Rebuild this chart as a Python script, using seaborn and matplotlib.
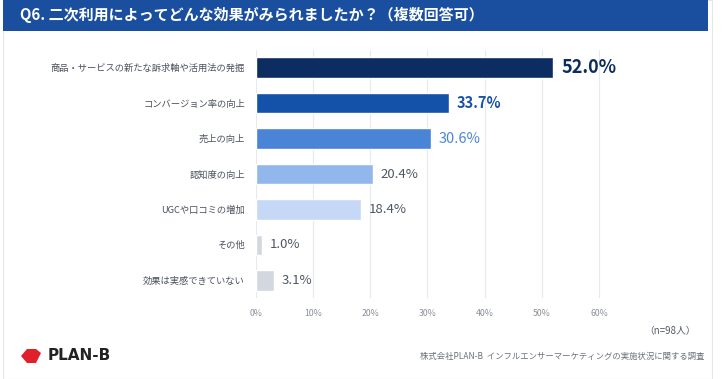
import matplotlib.pyplot as plt
import matplotlib.patches as mpatches
import seaborn as sns
import pandas as pd

# 回答データ
categories = ["商品・サービスの新たな訴求軸や活用法の発掘", "コンバージョン率の向上", "売上の向上",
              "認知度の向上", "UGCや口コミの増加", "その他", "効果は実感できていない"]
values = [52.0, 33.7, 30.6, 20.4, 18.4, 1.0, 3.1]
bar_colors = ["#0c2c62", "#1451a8", "#4a84d6", "#92b7ec", "#c5d9f6", "#d3d8e0", "#d3d8e0"]
label_colors = ["#0c2c62", "#1a52a8", "#4a86d8", "#4f5663", "#4f5663", "#4f5663", "#4f5663"]
ticks = [0, 10, 20, 30, 40, 50, 60]

sns.set_style("white")
plt.rcParams['font.family'] = ['Noto Sans CJK JP', 'DejaVu Sans']

df = pd.DataFrame({"cat": categories, "val": values})

fig = plt.figure(figsize=(7.26, 3.79), dpi=100)
W, H = 726, 379

# カード枠とヘッダー
fig.patches.append(mpatches.Rectangle((3 / W, 0), 709 / W, 1, transform=fig.transFigure,
                                      facecolor="white", edgecolor="#e4e6ea", lw=0.8, zorder=-2))
fig.patches.append(mpatches.Rectangle((3 / W, 1 - 31 / H), 705 / W, 31 / H, transform=fig.transFigure,
                                      facecolor="#1a4fa0", edgecolor="none", zorder=-1))
fig.text(20 / W, 1 - 15 / H, "Q6. 二次利用によってどんな効果がみられましたか？（複数回答可）",
         color="white", fontsize=10.8, fontweight="bold", va="center", ha="left")

ax = fig.add_axes([256 / W, 1 - 298 / H, (635 - 256) / W, (298 - 50) / H])
ax.set_zorder(2)
ax.patch.set_alpha(0)
sns.barplot(data=df, x="val", y="cat", hue="cat", palette=bar_colors, legend=False,
            width=0.58, saturation=1, ax=ax, orient="h")
ax.set_xlim(0, 66.3)
ax.set_xticks(ticks)
ax.set_xticklabels([f"{t}%" for t in ticks], fontsize=6.3, color="#8a8f98")
ax.tick_params(axis="x", length=0, pad=8)
ax.tick_params(axis="y", length=0, pad=8)
ax.set_yticks(range(len(categories)))
ax.set_yticklabels(categories, fontsize=6.7, color="#4a505c")
ax.set_xlabel("")
ax.set_ylabel("")
for s in ax.spines.values():
    s.set_visible(False)
ax.xaxis.grid(True, color="#e6e9ee", lw=0.8)
ax.set_axisbelow(True)

sizes = [13, 10.5, 10.5, 9.5, 9.5, 9.5, 9.5]
weights = ["bold", "bold", "normal", "normal", "normal", "normal", "normal"]
for i, v in enumerate(values):
    ax.text(v + 1.4, i, f"{v:.1f}%", va="center", ha="left", fontsize=sizes[i],
            color=label_colors[i], fontweight=weights[i])

fig.text(696 / W, 1 - 331 / H, "（n=98人）", fontsize=7, color="#555b66", ha="right", va="center")
fig.text(704 / W, 1 - 356 / H, "株式会社PLAN-B  インフルエンサーマーケティングの実施状況に関する調査",
         fontsize=6, color="#6a707a", ha="right", va="center")

# ロゴ
logo = mpatches.Polygon([(21 / W, 1 - 356 / H), (27 / W, 1 - 349 / H), (36 / W, 1 - 349 / H),
                         (41 / W, 1 - 353 / H), (36 / W, 1 - 363 / H), (27 / W, 1 - 363 / H)],
                        closed=True, transform=fig.transFigure, facecolor="#e0202a", edgecolor="none")
fig.patches.append(logo)
fig.text(48 / W, 1 - 356 / H, "PLAN-B", fontsize=11, fontweight="bold", color="#222222",
         ha="left", va="center", family="DejaVu Sans")

fig.savefig("out.png", dpi=100)
